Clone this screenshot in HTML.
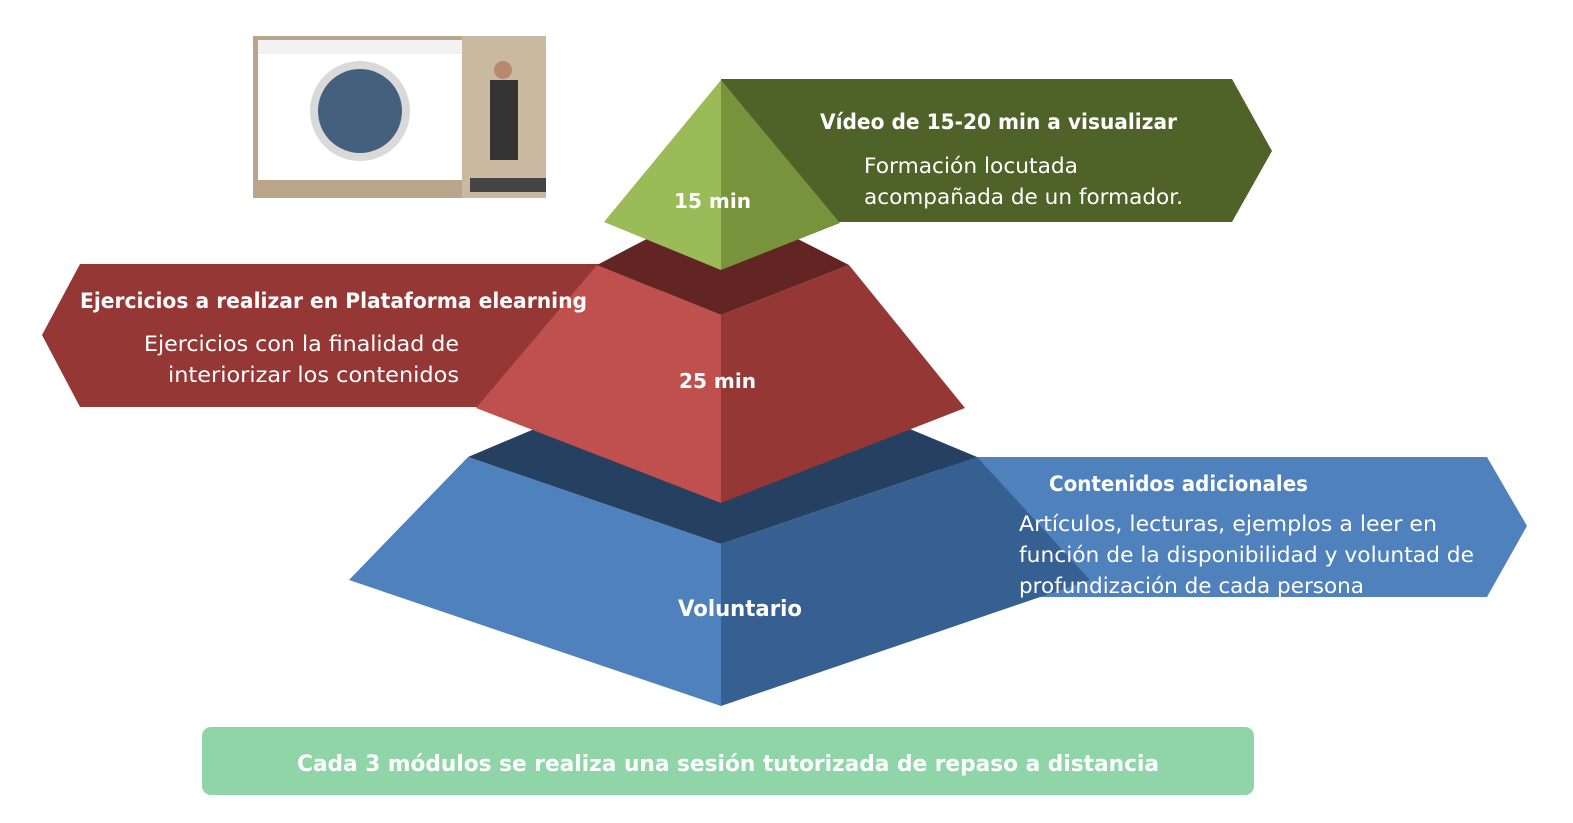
<!DOCTYPE html>
<html><head><meta charset="utf-8"><style>
html,body{margin:0;padding:0;background:#fff;}
svg{display:block;}
text{font-family:"DejaVu Sans","Liberation Sans",sans-serif;fill:#fff;}
.b{font-weight:bold;}
</style></head><body>
<svg width="1573" height="823" viewBox="0 0 1573 823" xmlns="http://www.w3.org/2000/svg">
<rect width="1573" height="823" fill="#fff"/>
<!-- arrows behind -->
<polygon points="940,457 1487,457 1527,526 1487,597 940,597" fill="#4f81bd"/>
<polygon points="80,264 660,264 660,407 80,407 42,335" fill="#953735"/>
<polygon points="721,79 1232,79 1272,151 1232,222 721,222" fill="#4f6228"/>
<!-- blue layer -->
<polygon points="468,457 721,350 977,457 721,544" fill="#254061"/>
<polygon points="468,457 721,544 721,706 349,580" fill="#4f81bd"/>
<polygon points="721,544 977,457 1090,580 721,706" fill="#366092"/>
<!-- red layer -->
<polygon points="597,265 721,200 849,265 721,315" fill="#632523"/>
<polygon points="597,265 721,315 721,503 476,408" fill="#c0504d"/>
<polygon points="721,315 849,265 965,408 721,503" fill="#953735"/>
<!-- green -->
<polygon points="721,80 721,270 604,222" fill="#9bbb59"/>
<polygon points="721,80 840,223 721,270" fill="#77933c"/>
<!-- thumbnail -->
<rect x="253" y="36" width="293" height="162" fill="#b9a58a"/>
<rect x="462" y="36" width="84" height="162" fill="#c9b9a0"/>
<rect x="258" y="40" width="204" height="140" fill="#fff"/>
<rect x="258" y="40" width="204" height="14" fill="#f2f2f2"/>
<circle cx="360" cy="111" r="50" fill="#d9d9d9"/>
<circle cx="360" cy="111" r="42" fill="#44607e"/>
<rect x="490" y="80" width="28" height="80" fill="#333"/>
<circle cx="503" cy="70" r="9" fill="#b8896e"/>
<rect x="470" y="178" width="76" height="14" fill="#444"/>
<!-- labels -->
<text class="b" x="820" y="129" font-size="21" textLength="357" lengthAdjust="spacingAndGlyphs">Vídeo de 15-20 min a visualizar</text>
<text x="864" y="173" font-size="21" textLength="214" lengthAdjust="spacingAndGlyphs">Formación locutada</text>
<text x="864" y="204" font-size="21" textLength="319" lengthAdjust="spacingAndGlyphs">acompañada de un formador.</text>
<text class="b" x="674" y="208" font-size="20" textLength="77" lengthAdjust="spacingAndGlyphs">15 min</text>
<text class="b" x="80" y="308" font-size="21" textLength="507" lengthAdjust="spacingAndGlyphs">Ejercicios a realizar en Plataforma elearning</text>
<text x="144" y="351" font-size="21" textLength="315" lengthAdjust="spacingAndGlyphs">Ejercicios con la finalidad de</text>
<text x="168" y="382" font-size="21" textLength="291" lengthAdjust="spacingAndGlyphs">interiorizar  los contenidos</text>
<text class="b" x="679" y="388" font-size="20" textLength="77" lengthAdjust="spacingAndGlyphs">25 min</text>
<text class="b" x="1049" y="491" font-size="21" textLength="259" lengthAdjust="spacingAndGlyphs">Contenidos adicionales</text>
<text x="1019" y="531" font-size="21" textLength="418" lengthAdjust="spacingAndGlyphs">Artículos, lecturas, ejemplos a leer en</text>
<text x="1019" y="562" font-size="21" textLength="455" lengthAdjust="spacingAndGlyphs">función de la disponibilidad y voluntad de</text>
<text x="1019" y="593" font-size="21" textLength="345" lengthAdjust="spacingAndGlyphs">profundización de cada persona</text>
<text class="b" x="678" y="616" font-size="22" textLength="124" lengthAdjust="spacingAndGlyphs">Voluntario</text>
<!-- bottom bar -->
<rect x="202" y="727" width="1052" height="68" rx="9" fill="#8fd5a8"/>
<text class="b" x="297" y="771" font-size="22" textLength="862" lengthAdjust="spacingAndGlyphs">Cada 3 módulos se realiza una sesión tutorizada de repaso a distancia</text>
</svg>
</body></html>
